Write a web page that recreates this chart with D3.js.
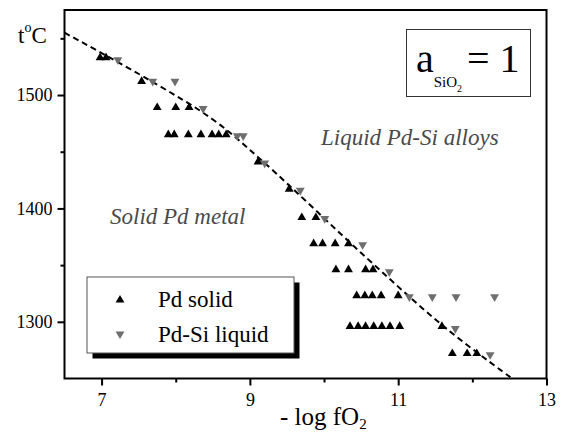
<!DOCTYPE html>
<html>
<head>
<meta charset="utf-8">
<script src="https://cdn.jsdelivr.net/npm/d3@7/dist/d3.min.js"></script>
<style>
  html, body { margin: 0; padding: 0; background: #fff; }
  svg text { font-family: "Liberation Serif", "Times New Roman", Times, "DejaVu Serif", serif; }
</style>
</head>
<body>
<div id="chart"></div>
<script>
// -log fO2 (x) and temperature in C (y)
var solidX = [6.98, 7.06, 7.54, 7.75, 8.00, 8.18,
              7.90, 7.98, 8.17, 8.34, 8.49, 8.58, 8.68,
              9.11, 9.53, 9.70, 9.89,
              9.86, 9.98, 10.15, 10.33,
              10.16, 10.33, 10.56, 10.66,
              10.44, 10.55, 10.65, 10.77, 11.00,
              10.35, 10.46, 10.56, 10.67, 10.78, 10.89, 11.02, 11.59,
              11.73, 11.93, 12.06];
var solidT = [1533, 1533, 1512, 1489, 1489, 1489,
              1465, 1465, 1465, 1465, 1465, 1465, 1465,
              1441, 1417, 1392, 1392,
              1369, 1369, 1369, 1369,
              1346, 1346, 1346, 1346,
              1323, 1323, 1323, 1323, 1323,
              1296, 1296, 1296, 1296, 1296, 1296, 1296, 1296,
              1272, 1272, 1272];

var liquidX = [7.22, 7.69, 7.99, 8.37, 8.83, 8.91, 9.20, 9.68, 10.01, 10.52, 10.88,
               11.15, 11.46, 11.78, 12.30, 11.77, 12.24];
var liquidT = [1531, 1512, 1512, 1488, 1464, 1464, 1440, 1416, 1391, 1368, 1344,
               1322, 1322, 1322, 1322, 1294, 1271];

// dashed boundary curve
var fitX = [6.5, 7.65, 8.51, 9.20, 10.58, 11.65, 12.62];
var fitT = [1555, 1513, 1478, 1440, 1356, 1294, 1246];

var xMajor = [7, 9, 11, 13];
var xMinor = [8, 10, 12];
var yMajor = [1300, 1400, 1500];
var yMinor = [1350, 1450, 1550];

var legendLabels = ['Pd solid', 'Pd-Si liquid'];

var SERIF = '"Liberation Serif", "Times New Roman", Times, "DejaVu Serif", serif';
var W = 564, H = 432;
var svg = d3.select('#chart').append('svg')
    .attr('width', W).attr('height', H)
    .attr('font-family', SERIF);
svg.append('rect').attr('width', W).attr('height', H).attr('fill', '#fff');

var x = d3.scaleLinear().domain([6.5, 13]).range([64.5, 546.5]);
var y = d3.scaleLinear().domain([1250, 1575]).range([378.5, 10]);

svg.append('clipPath').attr('id', 'plotclip')
  .append('rect')
    .attr('x', x(6.5)).attr('y', y(1575))
    .attr('width', x(13) - x(6.5)).attr('height', y(1250) - y(1575));

// axes: major ticks with labels, minor without
function styleAxis(g) {
    g.attr('font-family', SERIF).attr('font-size', 18);
    g.select('.domain').remove();
    g.selectAll('.tick line').attr('stroke', '#000').attr('stroke-width', 2);
    g.selectAll('.tick text').attr('fill', '#000');
}
svg.append('g').attr('transform', 'translate(0,' + y(1250) + ')')
    .call(d3.axisBottom(x).tickValues(xMajor).tickSize(7).tickPadding(8)
        .tickFormat(d3.format('d')))
    .call(styleAxis);
svg.append('g').attr('transform', 'translate(0,' + y(1250) + ')')
    .call(d3.axisBottom(x).tickValues(xMinor).tickSize(4).tickFormat(''))
    .call(styleAxis);
svg.append('g').attr('transform', 'translate(' + x(6.5) + ',0)')
    .call(d3.axisLeft(y).tickValues(yMajor).tickSize(7).tickPadding(5)
        .tickFormat(d3.format('d')))
    .call(styleAxis);
svg.append('g').attr('transform', 'translate(' + x(6.5) + ',0)')
    .call(d3.axisLeft(y).tickValues(yMinor).tickSize(4).tickFormat(''))
    .call(styleAxis);

// frame
svg.append('rect')
    .attr('x', x(6.5)).attr('y', y(1575))
    .attr('width', x(13) - x(6.5)).attr('height', y(1250) - y(1575))
    .attr('fill', 'none').attr('stroke', '#000').attr('stroke-width', 2);

// region labels
svg.append('text').attr('x', 110).attr('y', 223.5)
    .attr('font-size', 23).attr('font-style', 'italic').attr('fill', '#4a4a4a')
    .text('Solid Pd metal');
svg.append('text').attr('x', 321).attr('y', 145)
    .attr('font-size', 23).attr('font-style', 'italic').attr('fill', '#4a4a4a')
    .text('Liquid Pd-Si alloys');

// dashed boundary
var fitLine = d3.line()
    .x(function (d) { return x(d[0]); })
    .y(function (d) { return y(d[1]); })
    .curve(d3.curveCatmullRom);
svg.append('path')
    .datum(d3.zip(fitX, fitT))
    .attr('clip-path', 'url(#plotclip)')
    .attr('fill', 'none').attr('stroke', '#000')
    .attr('stroke-width', 2).attr('stroke-dasharray', '6,4')
    .attr('d', fitLine);

var tri = d3.symbol().type(d3.symbolTriangle).size(34);
var solidColor = '#000', liquidColor = '#6e6e6e';

svg.append('g').selectAll('path')
    .data(d3.zip(liquidX, liquidT))
  .join('path')
    .attr('d', tri)
    .attr('transform', function (d) {
        return 'translate(' + x(d[0]) + ',' + y(d[1]) + ') rotate(180)';
    })
    .attr('fill', liquidColor);

svg.append('g').selectAll('path')
    .data(d3.zip(solidX, solidT))
  .join('path')
    .attr('d', tri)
    .attr('transform', function (d) {
        return 'translate(' + x(d[0]) + ',' + y(d[1]) + ')';
    })
    .attr('fill', solidColor);

// legend with drop shadow
var lg = svg.append('g');
lg.append('rect').attr('x', 92.5).attr('y', 282.5).attr('width', 207).attr('height', 76)
    .attr('fill', '#000');
lg.append('rect').attr('x', 87).attr('y', 277).attr('width', 207).attr('height', 76)
    .attr('fill', '#fff').attr('stroke', '#555').attr('stroke-width', 1);
lg.append('path').attr('d', tri).attr('transform', 'translate(120,300)').attr('fill', solidColor);
lg.append('path').attr('d', tri).attr('transform', 'translate(120,334) rotate(180)').attr('fill', liquidColor);
lg.selectAll('text.lab').data(legendLabels).join('text')
    .attr('class', 'lab')
    .attr('x', 158).attr('y', function (d, i) { return 307 + i * 34.5; })
    .attr('font-size', 23).attr('fill', '#000')
    .text(function (d) { return d; });

// activity box
svg.append('rect').attr('x', 406.5).attr('y', 29.5).attr('width', 124).attr('height', 67)
    .attr('fill', '#fff').attr('stroke', '#333').attr('stroke-width', 1);
var at = svg.append('text').attr('x', 416).attr('y', 72).attr('font-size', 40).attr('fill', '#000');
at.append('tspan').text('a');
at.append('tspan').attr('font-size', 15).attr('dy', 15).text('SiO');
at.append('tspan').attr('font-size', 10).attr('dy', 4.5).text('2');
at.append('tspan').attr('x', 467).attr('y', 72).text('= 1');

// axis titles
var yt = svg.append('text').attr('x', 18).attr('y', 43).attr('font-size', 23).attr('fill', '#000');
yt.append('tspan').text('t');
yt.append('tspan').attr('font-size', 14).attr('dy', -11).text('o');
yt.append('tspan').attr('dy', 11).text('C');

var xt = svg.append('text').attr('x', 280).attr('y', 425).attr('font-size', 25).attr('fill', '#000');
xt.append('tspan').text('- log fO');
xt.append('tspan').attr('font-size', 15).attr('dy', 4).text('2');
</script>
</body>
</html>
